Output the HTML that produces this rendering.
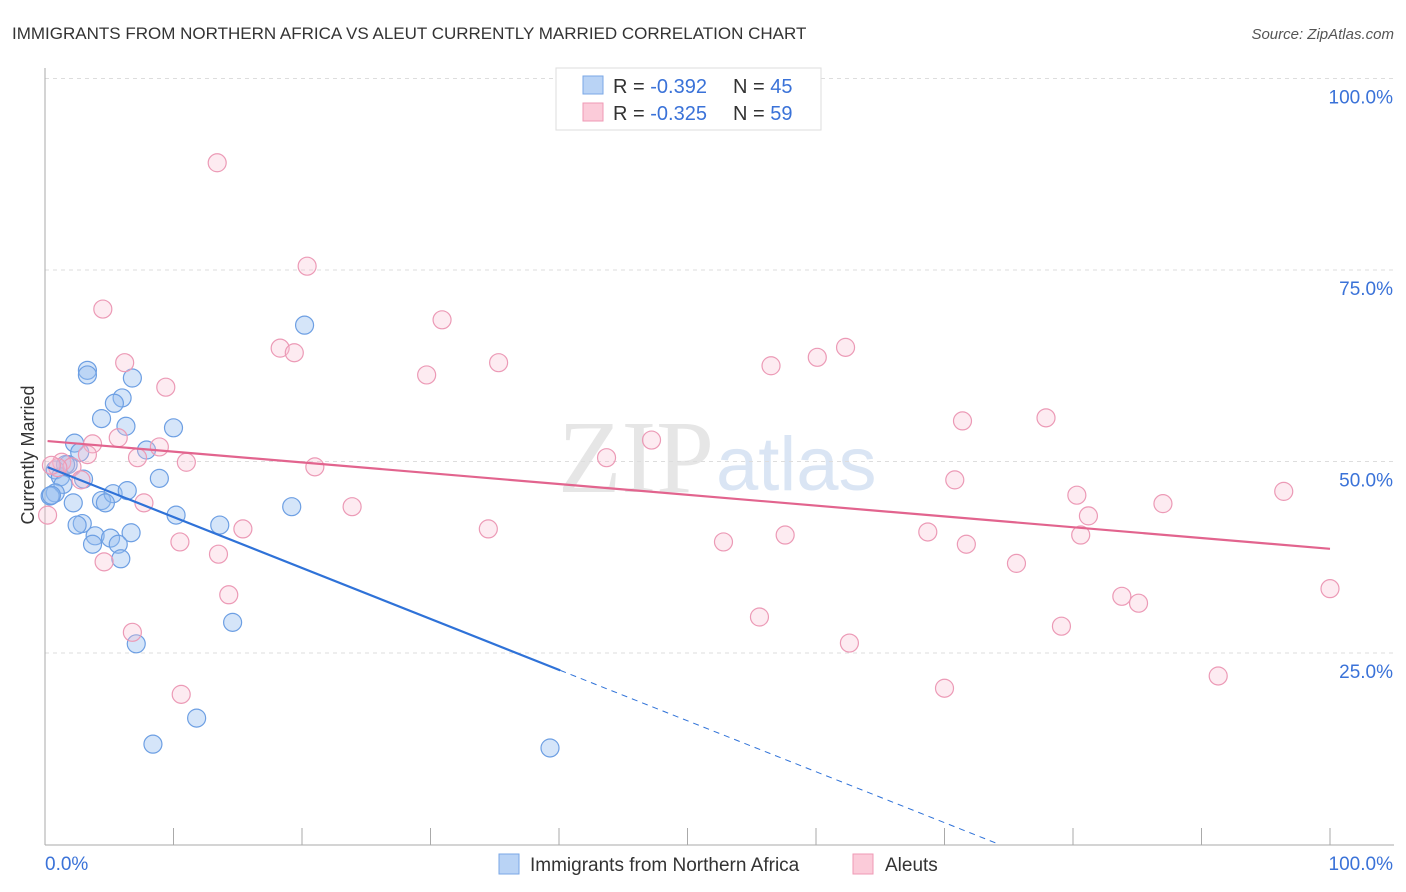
<!DOCTYPE html>
<html><head><meta charset="utf-8"><style>
body{margin:0;background:#fff;font-family:"Liberation Sans",sans-serif;}
svg{display:block}
</style></head><body>
<svg id="chart" width="1406" height="892">
<text x="12" y="39" font-size="17" fill="#333">IMMIGRANTS FROM NORTHERN AFRICA VS ALEUT CURRENTLY MARRIED CORRELATION CHART</text>
<text x="1394" y="39" font-size="15" fill="#555" font-style="italic" text-anchor="end">Source: ZipAtlas.com</text>
<text x="714" y="492" font-size="104" fill="#e6e6e6" text-anchor="end" font-family="Liberation Serif,serif">ZIP</text>
<text x="716" y="490" font-size="76" fill="#dae5f4">atlas</text>
<g id="grid"></g>
<g id="axes"></g>
<g id="marks"></g>
<text transform="translate(34,455) rotate(-90)" font-size="18" fill="#333" text-anchor="middle">Currently Married</text>
<g>
<rect x="556" y="68" width="265" height="62" fill="#fff" stroke="#ddd"/>
<rect x="583" y="76" width="20" height="18" fill="#b9d3f5" stroke="#7aa7e6"/>
<rect x="583" y="103" width="20" height="18" fill="#fbcbd9" stroke="#ef9ab5"/>
<text x="613" y="93" font-size="20" fill="#333">R = <tspan fill="#3a72d8">-0.392</tspan><tspan x="733">N = </tspan><tspan fill="#3a72d8">45</tspan></text>
<text x="613" y="120" font-size="20" fill="#333">R = <tspan fill="#3a72d8">-0.325</tspan><tspan x="733">N = </tspan><tspan fill="#3a72d8">59</tspan></text>
</g>
<g>
<rect x="499" y="854" width="20" height="20" fill="#b9d3f5" stroke="#7aa7e6"/>
<text x="530" y="871" font-size="19" fill="#333">Immigrants from Northern Africa</text>
<rect x="853" y="854" width="20" height="20" fill="#fbcbd9" stroke="#ef9ab5"/>
<text x="885" y="871" font-size="19" fill="#333">Aleuts</text>
</g>
</svg>
<script>
const blueX=[3.3,3.3,6.8,6.0,5.4,4.4,6.3,10.0,2.3,7.9,2.7,1.8,0.8,1.2,3.0,8.9,1.4,0.8,0.4,2.2,4.4,5.3,6.4,4.7,10.2,2.9,2.5,6.7,3.9,5.1,5.7,3.7,13.6,19.2,5.9,14.6,7.1,11.8,8.4,39.3,20.2,0.5,1.6];
const blueY=[61.9,61.3,60.9,58.3,57.6,55.6,54.6,54.4,52.4,51.5,51.2,49.6,48.9,48.0,47.7,47.8,47.0,45.9,45.5,44.6,44.9,45.8,46.2,44.6,43.0,41.9,41.7,40.7,40.3,40.0,39.2,39.2,41.7,44.1,37.3,29.0,26.2,16.5,13.1,12.6,67.8,45.6,49.6];
const pinkX=[13.4,20.4,4.5,30.9,18.3,19.4,6.2,35.3,29.7,9.4,56.5,60.1,62.3,71.4,77.9,5.7,3.7,8.9,47.2,7.2,3.3,43.7,11.0,21.0,1.3,2.1,1.0,2.8,70.8,96.4,80.3,87.0,7.7,23.9,81.2,0.2,34.5,15.4,68.7,57.6,80.6,10.5,52.8,71.7,13.5,4.6,75.6,100,14.3,83.8,85.1,55.6,79.1,6.8,62.6,10.6,70.0,91.3,0.5];
const pinkY=[89.0,75.5,69.9,68.5,64.8,64.2,62.9,62.9,61.3,59.7,62.5,63.6,64.9,55.3,55.7,53.1,52.3,51.9,52.8,50.5,50.9,50.5,49.9,49.3,49.9,49.3,49.2,47.6,47.6,46.1,45.6,44.5,44.6,44.1,42.9,43.0,41.2,41.2,40.8,40.4,40.4,39.5,39.5,39.2,37.9,36.9,36.7,33.4,32.6,32.4,31.5,29.7,28.5,27.7,26.3,19.6,20.4,22.0,49.5];
const blueTrend=[49.4,-0.665];
const pinkTrend=[52.7,-0.141];
const yTicks=[25,50,75,100];
const yTickLabels=["25.0%","50.0%","75.0%","100.0%"];
const xTicks=[0,10,20,30,40,50,60,70,80,90,100];

const NS="http://www.w3.org/2000/svg";
const sx=v=>45+v*12.85, sy=v=>844.5-v*7.66;
function mk(parent,tag,attrs){const e=document.createElementNS(NS,tag);for(const k in attrs)e.setAttribute(k,attrs[k]);document.getElementById(parent).appendChild(e);return e;}
yTicks.forEach((t,i)=>{
 const l=mk('grid','line',{x1:45,x2:1394,y1:sy(t),y2:sy(t),stroke:'#ddd','stroke-dasharray':'4,4'});
 
 
 const tx=mk('axes','text',{x:1393,y:sy(t)+25,'font-size':19,fill:'#3a72d8','text-anchor':'end'});
 tx.textContent=yTickLabels[i];
 
 
});
const ax=mk('axes','line',{x1:45,x2:1394,y1:845,y2:845,stroke:'#aaa'});


const ay=mk('axes','line',{x1:45,x2:45,y1:68,y2:845,stroke:'#aaa'});


xTicks.forEach(t=>{const l=mk('axes','line',{x1:sx(t),x2:sx(t),y1:828,y2:845,stroke:'#aaa'});
 
 });
const x0=mk('axes','text',{x:45,y:870,'font-size':19,fill:'#3a72d8'});x0.textContent='0.0%';


const x1=mk('axes','text',{x:1393,y:870,'font-size':19,fill:'#3a72d8','text-anchor':'end'});x1.textContent='100.0%';



blueX.forEach((v,i)=>{const c=mk('marks','circle',{cx:sx(v),cy:sy(blueY[i]),r:9,fill:'rgba(150,190,240,0.4)',stroke:'#6d9fe3','stroke-width':1.2});
 
 });
pinkX.forEach((v,i)=>{const c=mk('marks','circle',{cx:sx(v),cy:sy(pinkY[i]),r:9,fill:'rgba(248,190,210,0.3)',stroke:'#ec9ab6','stroke-width':1.2});
 
 });
const bEnd=40.1, bZero=-blueTrend[0]/blueTrend[1];
const tl=mk('marks','line',{x1:sx(0.2),y1:sy(blueTrend[0]+blueTrend[1]*0.2),x2:sx(bEnd),y2:sy(blueTrend[0]+blueTrend[1]*bEnd),stroke:'#2f72d8','stroke-width':2.2});


const td=mk('marks','line',{x1:sx(bEnd),y1:sy(blueTrend[0]+blueTrend[1]*bEnd),x2:sx(bZero),y2:sy(0),stroke:'#2f72d8','stroke-width':1,'stroke-dasharray':'6,5'});


const tp=mk('marks','line',{x1:sx(0.2),y1:sy(pinkTrend[0]+pinkTrend[1]*0.2),x2:sx(100),y2:sy(pinkTrend[0]+pinkTrend[1]*100),stroke:'#e2648e','stroke-width':2.2});


</script>
</body></html>
